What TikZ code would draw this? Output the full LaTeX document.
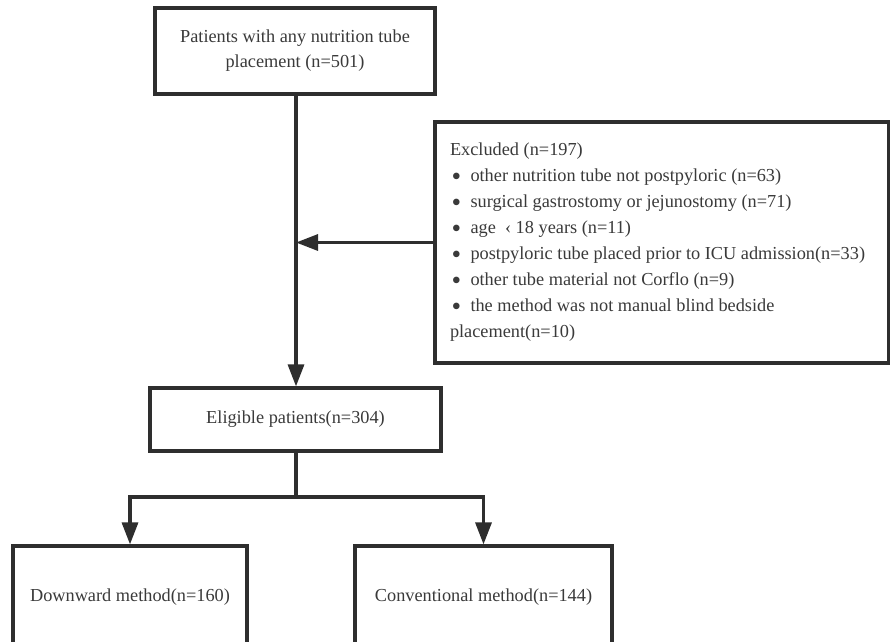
\documentclass[tikz,border=0pt]{standalone}
\usepackage{fontspec}
\setmainfont{Liberation Serif}
\usetikzlibrary{arrows.meta}
\definecolor{ln}{HTML}{2E2E2E}
\definecolor{tx}{HTML}{3A3A3A}
\newcommand{\bul}{\makebox[20.5pt][l]{\hspace{1.5pt}\raisebox{-4pt}{\scalebox{1.5}{\textbullet}}}}
\tikzset{
  boxst/.style={draw=ln, line width=3.2pt, fill=white, text=tx, align=center,
    font=\fontsize{18.3}{25}\selectfont, inner sep=0pt},
  arr/.style={draw=ln, line width=3.2pt, -{Triangle[length=22pt,width=16pt]}},
  ln/.style={draw=ln, line width=3.2pt}
}
\begin{document}
\begin{tikzpicture}[x=1pt,y=-1pt]
\useasboundingbox (0,0) rectangle (890,641);
\clip (0,0) rectangle (890,641);
\node[boxst, minimum width=280pt, minimum height=86pt] (top) at (295,51)
  {Patients with any nutrition tube\\placement (n=501)};
\node[boxst, minimum width=454pt, minimum height=241pt, text width=424pt, align=flush left,
  font=\fontsize{18.3}{26}\selectfont] (excl) at (662,242.5)
  {Excluded (n=197)\\
   \bul other nutrition tube not postpyloric (n=63)\\
   \bul surgical gastrostomy or jejunostomy (n=71)\\
   \bul age \ ‹ 18 years (n=11)\\
   \bul postpyloric tube placed prior to ICU admission(n=33)\\
   \bul other tube material not Corflo (n=9)\\
   \bul the method was not manual blind bedside\\
   placement(n=10)};
\node[boxst, minimum width=291pt, minimum height=63pt] (elig) at (295.5,419.5)
  {Eligible patients(n=304)};
\node[boxst, minimum width=234pt, minimum height=102pt] (down) at (130,597)
  {Downward method(n=160)};
\node[boxst, minimum width=257pt, minimum height=102pt] (conv) at (483.5,597)
  {Conventional method(n=144)};
\coordinate (stemx) at (296,0);
\draw[arr] (stemx |- top.south) -- (stemx |- elig.north);
\draw[arr] (excl.west) -- (stemx |- excl.west);
\coordinate (split) at (296,497);
\draw[ln] (stemx |- elig.south) -- (split);
\draw[arr] (split) -| (down.north);
\draw[arr] (split) -| (conv.north);
\end{tikzpicture}
\end{document}
